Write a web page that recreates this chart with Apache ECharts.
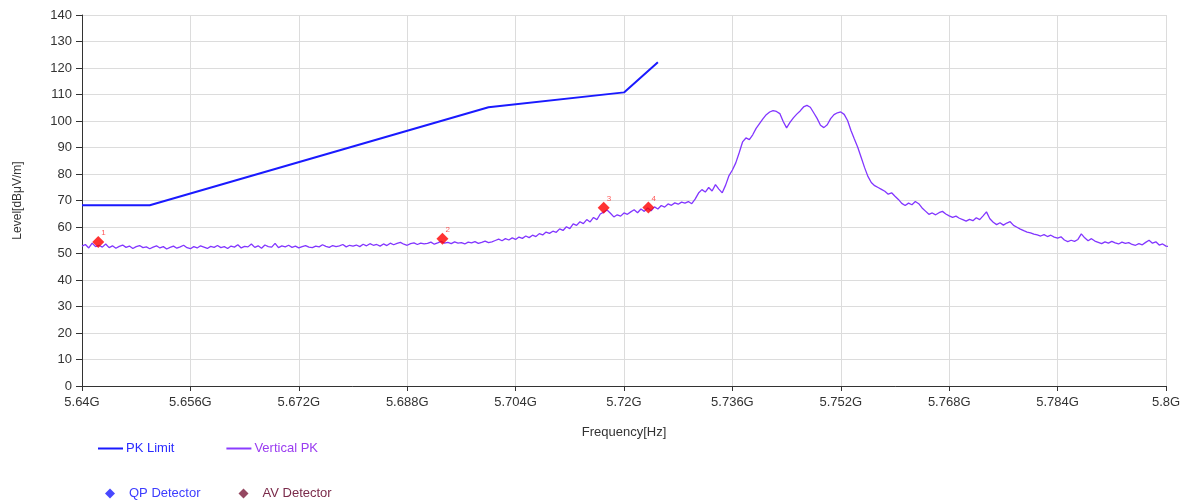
<!DOCTYPE html>
<html>
<head>
<meta charset="utf-8">
<script src="https://cdn.jsdelivr.net/npm/echarts@6/dist/echarts.min.js"></script>
<style>
  html, body { margin: 0; padding: 0; background: #fff; }
  #chart { width: 1185px; height: 501px; }
</style>
</head>
<body>
<div id="chart"></div>
<script>
// Sweep settings of the measured trace (GHz)
const sweepStartGHz = 5.64;
const sweepStepGHz = 0.0005;

// Vertical PK trace, one level per sweep point (dBμV/m)
const verticalPK = [
  52.8, 53.4, 52.1, 53.9, 52.6, 53.1, 52.4, 53.6, 52.2, 52.9, 52.0, 52.7, 53.2, 52.3, 52.8, 51.9, 52.6, 53.0, 52.2, 52.5, 51.8,
  52.4, 52.9, 52.1, 52.6, 51.7, 52.3, 52.8, 52.0, 52.5, 53.1, 52.2, 51.8, 52.6, 52.1, 52.9, 52.4, 51.9, 52.7, 52.3, 53.0,
  52.2, 52.6, 51.9, 52.8, 52.4, 53.3, 52.1, 52.7, 52.5, 53.6, 52.3, 52.9, 52.0, 53.2, 52.6, 52.4, 53.8, 52.2, 52.9, 52.5,
  53.1, 52.3, 52.8, 52.1, 52.6, 53.0, 52.4, 52.2, 52.8, 52.5, 53.3, 52.7, 52.3, 53.0, 52.6, 52.9, 53.4, 52.5, 53.1, 52.8,
  53.2, 52.6, 53.5, 52.9, 53.7, 53.1, 53.4, 52.8, 53.6, 53.0, 53.9, 53.3, 53.8, 54.2, 53.5, 53.1, 53.7, 54.0, 53.4, 53.9, 53.6,
  53.8, 54.3, 53.5, 54.0, 54.6, 53.9, 54.2, 53.7, 54.4, 53.9, 54.1, 53.6, 54.3, 54.0, 54.5, 53.8, 54.2, 54.7, 54.1, 54.4,
  54.9, 55.4, 54.8, 55.6, 55.1, 55.9, 55.3, 56.2, 55.7, 56.6, 56.0, 56.9, 56.4, 57.5, 57.0, 58.1, 57.6, 58.4, 58.0, 59.3,
  58.7, 60.1, 59.4, 61.2, 60.6, 62.0, 61.3, 62.8, 61.9, 63.6, 62.8, 64.9, 65.6, 66.4, 65.2, 63.8, 64.6, 64.1, 65.3, 64.8,
  65.7, 66.5, 65.4, 66.8, 65.9, 67.2, 66.1, 67.6, 66.8, 68.1, 67.5, 68.7, 68.2, 69.1, 68.6, 69.4, 69.0, 69.6, 68.8, 70.5,
  72.8, 74.1, 73.2, 74.9, 73.6, 76.0, 74.3, 72.9, 75.8, 79.4,
  81.5, 84.2, 88.0, 92.1, 93.6, 93.0, 94.8, 97.2, 99.0, 100.8, 102.4, 103.4, 103.9, 103.6, 102.8, 99.8, 97.4, 99.5, 101.2, 102.6,
  103.8, 105.3, 105.9, 105.2, 103.1, 101.0, 98.4, 97.5, 98.6, 100.9, 102.4, 103.1, 103.4, 102.5, 100.2, 96.4, 93.2, 90.1, 86.3, 82.5,
  79.1, 76.8, 75.6, 74.9, 74.2, 73.5, 72.4, 72.9, 71.6, 70.4, 68.9, 68.1, 69.0, 68.4, 69.6, 68.8, 67.2, 66.0, 64.8, 65.3,
  64.6, 65.4, 65.9, 64.9, 64.2, 63.6, 64.1, 63.3, 62.8, 62.2, 62.9, 62.4, 63.5, 62.8, 64.2, 65.7, 63.1, 61.8, 60.9, 61.6,
  60.7, 61.5, 62.0, 60.6, 59.9, 59.2, 58.6, 58.1, 57.8, 57.3, 57.0, 56.6, 57.1, 56.4, 56.9, 56.2, 55.8, 56.3, 55.1, 54.5,
  55.0, 54.6, 55.3, 57.4, 55.9, 54.8, 55.6, 54.7, 54.2, 53.7, 54.4, 53.9, 54.6, 54.0, 53.6, 54.3, 53.8, 54.1, 53.4, 53.1,
  53.7, 53.3, 54.2, 55.0, 53.9, 54.4, 53.2, 53.6, 52.8, 52.6
];

// PK limit breakpoints
const limitFreqGHz = [5.64, 5.65, 5.70, 5.72, 5.725];
const limitLevel = [68.2, 68.2, 105.2, 110.8, 122.2];

// Peak markers 1..4
const markerFreqGHz = [5.6424, 5.6932, 5.7170, 5.7236];
const markerLevel = [54.3, 55.6, 67.3, 67.4];
const markerNames = ['1', '2', '3', '4'];

// Axis settings
const xStartGHz = 5.64;
const xEndGHz = 5.80;
const xTickStepGHz = 0.016;
const yMax = 140;
const yTickStep = 10;

// The x axis runs in MHz relative to the start frequency so ticks line up with 5.64G
const toAxis = f => +(f * 1000 - xStartGHz * 1000).toFixed(3);
const fromAxis = v => +(xStartGHz + v / 1000).toFixed(4);

const traceData = verticalPK.map((lv, i) => [toAxis(sweepStartGHz + i * sweepStepGHz), lv]);
const limitData = limitFreqGHz.map((f, i) => [toAxis(f), limitLevel[i]]);
const markerData = markerFreqGHz.map((f, i) => ({ value: [toAxis(f), markerLevel[i]], name: markerNames[i] }));

const font = 'Arial, "Liberation Sans", sans-serif';

const chart = echarts.init(document.getElementById('chart'), null, { renderer: 'canvas' });
chart.setOption({
  backgroundColor: '#ffffff',
  animation: false,
  grid: { left: 82, right: 19, top: 15, bottom: 115, containLabel: false },
  xAxis: {
    type: 'value',
    min: 0,
    max: toAxis(xEndGHz),
    interval: xTickStepGHz * 1000,
    name: 'Frequency[Hz]',
    nameLocation: 'middle',
    nameGap: 40,
    nameTextStyle: { color: '#333', fontSize: 13, fontFamily: font },
    axisLine: { show: true, lineStyle: { color: '#333', width: 1 } },
    axisTick: { show: true, length: 5, lineStyle: { color: '#333' } },
    axisLabel: {
      color: '#333', fontSize: 13, fontFamily: font, margin: 10,
      formatter: v => fromAxis(v) + 'G'
    },
    splitLine: { show: true, lineStyle: { color: '#dcdcdc', width: 1 } }
  },
  yAxis: {
    type: 'value',
    min: 0,
    max: yMax,
    interval: yTickStep,
    name: 'Level[dBμV/m]',
    nameLocation: 'middle',
    nameGap: 58,
    nameTextStyle: { color: '#333', fontSize: 12, fontFamily: font },
    axisLine: { show: true, lineStyle: { color: '#333', width: 1 } },
    axisTick: { show: true, length: 6, lineStyle: { color: '#333' } },
    axisLabel: { color: '#333', fontSize: 13, fontFamily: font, margin: 10 },
    splitLine: { show: true, lineStyle: { color: '#dcdcdc', width: 1 } }
  },
  legend: [
    {
      data: [
        { name: 'PK Limit', textStyle: { color: '#2b2bff' } },
        { name: 'Vertical PK', textStyle: { color: '#9a3cf0' } }
      ],
      left: 93, top: 437,
      icon: 'rect', itemWidth: 25, itemHeight: 2, itemGap: 52,
      textStyle: { fontSize: 13, fontFamily: font, padding: [0, 0, 0, -2] }
    },
    {
      data: [
        { name: 'QP Detector', textStyle: { color: '#3c3cff' } },
        { name: 'AV Detector', textStyle: { color: '#7a2a4a' } }
      ],
      left: 100, top: 482,
      icon: 'diamond', itemWidth: 10, itemHeight: 10, itemGap: 38,
      textStyle: { fontSize: 13, fontFamily: font, padding: [0, 0, 0, 9] }
    }
  ],
  series: [
    {
      name: 'PK Limit',
      type: 'line',
      data: limitData,
      showSymbol: false,
      symbol: 'none',
      color: '#1a1aff',
      lineStyle: { color: '#1a1aff', width: 2 },
      z: 3
    },
    {
      name: 'Vertical PK',
      type: 'line',
      data: traceData,
      showSymbol: false,
      symbol: 'none',
      color: '#8a3cff',
      lineStyle: { color: '#8236ff', width: 1.3 },
      z: 2
    },
    {
      name: 'QP Detector',
      type: 'scatter',
      data: [],
      symbol: 'diamond',
      color: '#1a1aff'
    },
    {
      name: 'AV Detector',
      type: 'scatter',
      data: [],
      symbol: 'diamond',
      color: '#7a1a3a'
    },
    {
      name: 'Markers',
      type: 'scatter',
      data: markerData,
      symbol: 'diamond',
      symbolSize: 12,
      itemStyle: { color: '#ff0000' },
      label: {
        show: true,
        formatter: p => p.name,
        position: [9, -7],
        color: '#ff3030',
        fontSize: 8,
        fontFamily: font
      },
      z: 5
    }
  ]
});
</script>
</body>
</html>
